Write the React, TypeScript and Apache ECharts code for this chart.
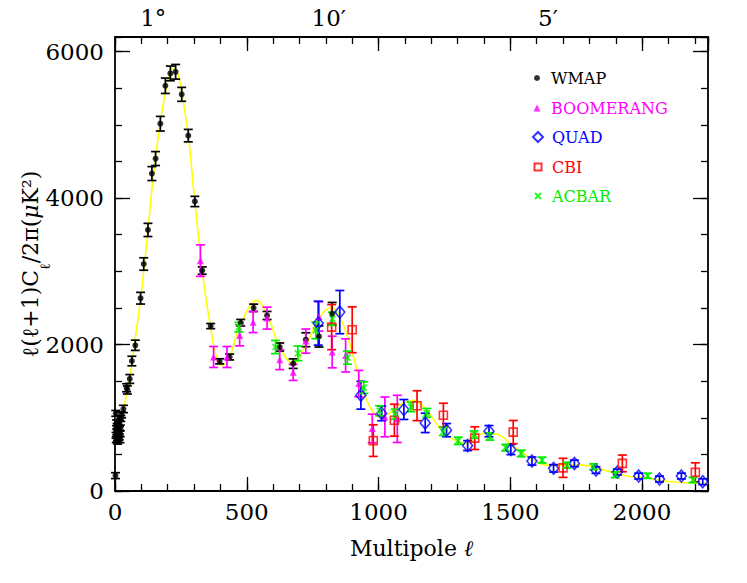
import React, { useEffect, useRef } from "react";
import * as echarts from "echarts";

// ---------- data ----------
const wmapL = [2, 3, 4, 5, 6, 7, 8, 9, 10, 11, 12, 13, 14, 15, 16, 17, 18, 19, 20, 22, 25, 32, 44, 47, 56, 64, 77, 97, 109, 125, 140, 154, 172, 191, 210, 230, 253, 278, 303, 331, 363, 397, 435, 477, 526, 577, 625, 676, 724, 774, 824];
const wmapV = [210, 1060, 760, 700, 930, 810, 880, 720, 680, 860, 830, 940, 740, 780, 740, 920, 790, 700, 860, 990, 1040, 1120, 1410, 1380, 1530, 1775, 1990, 2633, 3100, 3565, 4335, 4540, 5016, 5534, 5703, 5725, 5417, 4853, 3954, 3010, 2252, 1771, 1830, 2298, 2502, 2397, 1966, 1739, 2066, 2111, 2420];
const wmapE = [40, 40, 40, 40, 40, 40, 40, 40, 40, 40, 40, 40, 40, 40, 40, 40, 40, 40, 40, 40, 40, 50, 55, 55, 60, 65, 70, 80, 85, 90, 95, 95, 100, 105, 100, 100, 95, 85, 70, 50, 35, 35, 40, 45, 50, 55, 55, 65, 95, 145, 155];

const boomL = [324, 374, 425, 473, 524, 577, 625, 676, 724, 774, 824, 875, 925, 976, 1024, 1071];
const boomV = [3146, 1830, 1830, 2125, 2306, 2361, 1794, 1620, 2047, 2384, 1898, 1852, 1467, 854, 1012, 985];
const boomE = [215, 143, 143, 143, 143, 150, 136, 110, 165, 200, 216, 227, 180, 195, 272, 322];

const quadL = [771, 853, 933, 1012, 1096, 1177, 1258, 1338, 1419, 1502, 1582, 1664, 1743, 1825, 1906, 1987, 2066, 2149, 2230];
const quadV = [2292, 2443, 1308, 1060, 1113, 930, 831, 620, 817, 565, 409, 309, 377, 286, 259, 204, 163, 204, 127];
const quadE = [300, 295, 190, 100, 136, 132, 90, 68, 77, 68, 55, 50, 45, 45, 40, 40, 40, 40, 40];

const cbiL = [822, 900, 980, 1060, 1146, 1246, 1365, 1511, 1700, 1925, 2202];
const cbiV = [2238, 2202, 688, 967, 1165, 1035, 722, 804, 316, 377, 255];
const cbiE = [308, 313, 216, 218, 204, 163, 155, 159, 130, 114, 130];

const acbarL = [470, 609, 694, 762, 825, 882, 944, 1004, 1063, 1123, 1183, 1246, 1302, 1362, 1422, 1482, 1541, 1620, 1715, 1816, 1898, 2021, 2193];
const acbarV = [2238, 1966, 1880, 2193, 2352, 1821, 1412, 1096, 1049, 1148, 1067, 813, 685, 770, 745, 592, 513, 422, 354, 331, 222, 208, 150];
const acbarE = [64, 90, 100, 113, 90, 90, 80, 68, 68, 65, 60, 55, 50, 50, 50, 45, 45, 40, 40, 40, 40, 35, 35];

const theoryL = [2, 10, 20, 35, 43, 60, 81, 100, 125, 150, 175, 200, 220, 240, 260, 280, 300, 320, 340, 360, 380, 404, 430, 473, 537, 581, 625, 676, 727, 777, 822, 853, 891, 929, 967, 1005, 1040, 1081, 1132, 1183, 1233, 1284, 1334, 1398, 1449, 1499, 1550, 1613, 1660, 1702, 1778, 1854, 1942, 1993, 2107, 2250];
const theoryV = [1000, 880, 920, 1150, 1308, 1650, 2193, 2700, 3565, 4450, 5100, 5600, 5770, 5680, 5300, 4800, 4050, 3380, 2750, 2300, 1900, 1716, 1790, 2238, 2601, 2374, 1966, 1739, 2011, 2374, 2510, 2374, 2011, 1512, 1148, 1012, 1060, 1171, 1240, 1103, 858, 704, 650, 786, 776, 650, 513, 377, 350, 354, 354, 286, 204, 190, 127, 105];

const xTicksMajor = 500;
const xTicksMinor = 100;
const yTicksMajor = 2000;
const yTicksMinor = 500;
const xMax = 2250;
const yMax = 6200;
const topLabelValues = [145, 811, 1643];
const topLabelTexts = ["1°", "10′", "5′"];

const FONT = "'DejaVu Serif', serif";

type Exp = { name: string; L: number[]; V: number[]; E: number[]; color: string; symbol: string; size: number | number[]; hollow: boolean; legendW: number; legendH: number; legendTop: number };

const experiments: Exp[] = [
  { name: "WMAP", L: wmapL, V: wmapV, E: wmapE, color: "#000000", symbol: "circle", size: 6, hollow: false, legendW: 6, legendH: 6, legendTop: 70 },
  { name: "BOOMERANG", L: boomL, V: boomV, E: boomE, color: "#ff00ff", symbol: "triangle", size: 7, hollow: false, legendW: 7, legendH: 7, legendTop: 100 },
  { name: "QUAD", L: quadL, V: quadV, E: quadE, color: "#0000ff", symbol: "diamond", size: [10, 12], hollow: true, legendW: 10, legendH: 10, legendTop: 129 },
  { name: "CBI", L: cbiL, V: cbiV, E: cbiE, color: "#ff0000", symbol: "rect", size: 8, hollow: true, legendW: 7, legendH: 7, legendTop: 159 },
  { name: "ACBAR", L: acbarL, V: acbarV, E: acbarE, color: "#00ee00", symbol: "path://M0,0L10,10M10,0L0,10", size: 6, hollow: true, legendW: 6, legendH: 6, legendTop: 188 },
];

function axisCommon(pos: string, interval: number, max: number, tickLen: number, isMajor: boolean) {
  return {
    type: "value",
    position: pos,
    min: 0,
    max,
    interval,
    axisLine: { show: isMajor, onZero: false, lineStyle: { color: "#000", width: 1.8 } },
    axisTick: { show: true, inside: true, length: tickLen, lineStyle: { color: "#000", width: 1.3 } },
    axisLabel: { show: false },
    splitLine: { show: false },
    minorTick: { show: false },
  } as any;
}

export default function App() {
  const ref = useRef<HTMLDivElement>(null);
  useEffect(() => {
    if (!ref.current) return;
    const chart = echarts.init(ref.current, undefined, { renderer: "svg" });

    const xBottom = axisCommon("bottom", xTicksMajor, xMax, 14, true);
    xBottom.axisLabel = { show: true, margin: 9, fontSize: 23, fontFamily: FONT, color: "#000", showMaxLabel: false, formatter: (v: number) => String(v) };
    xBottom.name = "{a|Multipole }{b|ℓ}";
    xBottom.nameLocation = "middle";
    xBottom.nameGap = 46;
    xBottom.nameTextStyle = {
      rich: {
        a: { fontSize: 22, fontFamily: FONT, color: "#000" },
        b: { fontSize: 22, fontFamily: FONT, fontStyle: "italic", color: "#000" },
      },
    };
    const xBottomMinor = axisCommon("bottom", xTicksMinor, xMax, 7, false);
    const xTop = axisCommon("top", xTicksMajor, xMax, 14, true);
    xTop.axisLabel = {
      show: true,
      margin: 8,
      fontSize: 23,
      fontFamily: FONT,
      color: "#000",
      customValues: topLabelValues,
      formatter: (v: number) => {
        const i = topLabelValues.indexOf(v);
        return i >= 0 ? topLabelTexts[i] : "";
      },
    };
    const xTopMinor = axisCommon("top", xTicksMinor, xMax, 7, false);

    const yLeft = axisCommon("left", yTicksMajor, yMax, 15, true);
    yLeft.axisLabel = { show: true, margin: 11, fontSize: 23, fontFamily: FONT, color: "#000", showMaxLabel: false, formatter: (v: number) => String(v) };
    yLeft.name = "{a|ℓ(ℓ+1)C}{s|ℓ}{a|/2π(}{i|μ}{a|K²)}";
    yLeft.nameLocation = "middle";
    yLeft.nameGap = 71;
    yLeft.nameMoveOverlap = false;
    yLeft.nameRotate = 90;
    yLeft.nameTextStyle = {
      rich: {
        a: { fontSize: 22, fontFamily: FONT, color: "#000", lineHeight: 28 },
        i: { fontSize: 22, fontFamily: FONT, fontStyle: "italic", color: "#000", lineHeight: 28 },
        s: { fontSize: 14, fontFamily: FONT, color: "#000", lineHeight: 28, verticalAlign: "bottom", padding: [0, 0, -8, 0] },
      },
    };
    const yLeftMinor = axisCommon("left", yTicksMinor, yMax, 7, false);
    const yRight = axisCommon("right", yTicksMajor, yMax, 15, true);
    const yRightMinor = axisCommon("right", yTicksMinor, yMax, 7, false);

    const series: any[] = [
      {
        name: "theory",
        type: "line",
        data: theoryL.map((l, i) => [l, theoryV[i]]),
        smooth: 0.4,
        showSymbol: false,
        symbol: "none",
        lineStyle: { color: "#ffff00", width: 1.6 },
        z: 1,
      },
    ];

    experiments.forEach((ex) => {
      series.push({
        name: ex.name + "-err",
        type: "custom",
        data: ex.L.map((l, i) => [l, ex.V[i], ex.E[i]]),
        encode: { x: 0, y: 1 },
        z: 2,
        renderItem: (params: any, api: any) => {
          const x = api.value(0);
          const y = api.value(1);
          const e = api.value(2);
          const t = api.coord([x, y + e]);
          const b = api.coord([x, y - e]);
          const hw = 4.5;
          const st = { stroke: ex.color, lineWidth: 1.7 };
          return {
            type: "group",
            children: [
              { type: "line", shape: { x1: t[0], y1: t[1], x2: b[0], y2: b[1] }, style: st },
              { type: "line", shape: { x1: t[0] - hw, y1: t[1], x2: t[0] + hw, y2: t[1] }, style: st },
              { type: "line", shape: { x1: b[0] - hw, y1: b[1], x2: b[0] + hw, y2: b[1] }, style: st },
            ],
          };
        },
      });
      series.push({
        name: ex.name,
        type: "scatter",
        data: ex.L.map((l, i) => [l, ex.V[i]]),
        symbol: ex.symbol,
        symbolSize: ex.size,
        z: 3,
        itemStyle: ex.hollow
          ? { color: "rgba(255,255,255,0)", borderColor: ex.color, borderWidth: 1.6 }
          : { color: ex.color },
      });
    });

    const iconCenter = 537;
    const textLeft = 551;
    const legends = experiments.map((ex) => {
      const left = iconCenter - ex.legendW / 2;
      const pad = textLeft - (left + ex.legendW + 5);
      return {
        data: [{ name: ex.name, textStyle: { color: ex.color } }],
        orient: "vertical",
        left,
        top: ex.legendTop,
        padding: 0,
        itemWidth: ex.legendW,
        itemHeight: ex.legendH,
        selectedMode: false,
        textStyle: { fontFamily: FONT, fontSize: 16, color: ex.color, padding: [0, 0, 0, pad] },
      };
    });

    chart.setOption({
      animation: false,
      backgroundColor: "#ffffff",
      grid: { left: 115, right: 39, top: 37, bottom: 92, containLabel: false, outerBoundsMode: "none" },
      xAxis: [xBottom, xBottomMinor, xTop, xTopMinor],
      yAxis: [yLeft, yLeftMinor, yRight, yRightMinor],
      legend: legends,
      series,
    } as any);

    return () => chart.dispose();
  }, []);

  return <div ref={ref} style={{ position: "absolute", left: 0, top: 0, width: 747, height: 583 }} />;
}
